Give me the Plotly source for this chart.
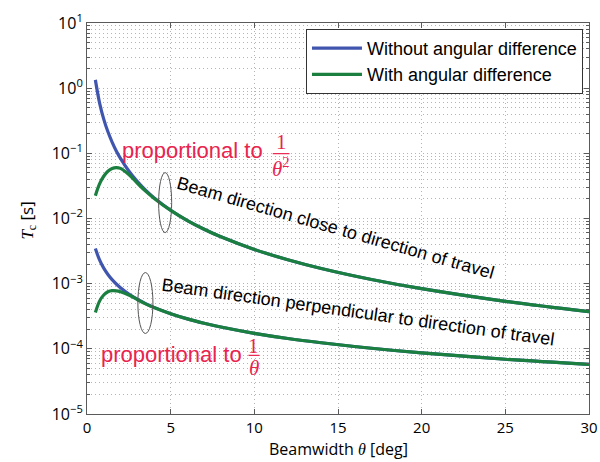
import plotly.graph_objects as go

# Beamwidth theta [deg]
theta = [0.5, 0.75, 1, 1.25, 1.5, 1.75, 2, 2.5, 3, 3.5, 4, 5, 6, 7, 8, 10, 12, 14, 17, 20, 25, 30]

# Beam direction close to direction of travel
close_without = [1.34, 0.596, 0.335, 0.214, 0.149, 0.109, 0.0838, 0.0536, 0.0372, 0.0273, 0.0209,
                 0.0134, 0.0093, 0.00684, 0.00523, 0.00335, 0.00233, 0.00171, 0.00116, 0.000838,
                 0.000536, 0.000372]
close_with = [0.0224, 0.034, 0.0445, 0.053, 0.0585, 0.0605, 0.0587, 0.0472, 0.035, 0.0263, 0.0205,
              0.0133, 0.0093, 0.00684, 0.00523, 0.00335, 0.00233, 0.00171, 0.00116, 0.000838,
              0.000536, 0.000372]

# Beam direction perpendicular to direction of travel
perp_without = [3.46e-3, 2.31e-3, 1.73e-3, 1.384e-3, 1.153e-3, 9.89e-4, 8.65e-4, 6.92e-4, 5.77e-4,
                4.94e-4, 4.33e-4, 3.46e-4, 2.88e-4, 2.47e-4, 2.16e-4, 1.73e-4, 1.44e-4, 1.24e-4,
                1.02e-4, 8.65e-5, 6.92e-5, 5.77e-5]
perp_with = [3.6e-4, 5.4e-4, 6.7e-4, 7.5e-4, 7.8e-4, 7.75e-4, 7.5e-4, 6.7e-4, 5.7e-4, 4.9e-4,
             4.32e-4, 3.46e-4, 2.88e-4, 2.47e-4, 2.16e-4, 1.73e-4, 1.44e-4, 1.24e-4, 1.02e-4,
             8.65e-5, 6.92e-5, 5.77e-5]

x_ticks = [0, 5, 10, 15, 20, 25, 30]
y_exps = [-5, -4, -3, -2, -1, 0, 1]
y_ticks = [10.0 ** e for e in y_exps]
y_ticktext = ["10<sup>%s</sup>" % (str(e).replace("-", "\u2212")) for e in y_exps]
y_minor = [m * 10.0 ** k for k in range(-5, 1) for m in range(2, 10)]

BLUE = "#4056AE"
GREEN = "#1A7F3F"
RED = "#E8244F"
GRID = "#b4b4b4"
FRAME = "#5a5a5a"

fig = go.Figure()
fig.add_trace(go.Scatter(x=theta, y=close_without, mode="lines", name="Without angular difference",
                         line=dict(color=BLUE, width=3.2, shape="spline")))
fig.add_trace(go.Scatter(x=theta, y=perp_without, mode="lines", name="Without angular difference",
                         showlegend=False, line=dict(color=BLUE, width=3.2, shape="spline")))
fig.add_trace(go.Scatter(x=theta, y=close_with, mode="lines", name="With angular difference",
                         line=dict(color=GREEN, width=3.2, shape="spline")))
fig.add_trace(go.Scatter(x=theta, y=perp_with, mode="lines", name="With angular difference",
                         showlegend=False, line=dict(color=GREEN, width=3.2, shape="spline")))

SERIF = "Liberation Serif"
SANS = "Liberation Sans"
TICKFONT = "Open Sans"

ann = []
# red labels
ann.append(dict(x=6.3, y=-0.95, text="proportional to", showarrow=False,
                font=dict(family=SANS, size=22, color=RED), xanchor="center", yanchor="middle"))
ann.append(dict(x=11.6, y=-0.83, text="1", showarrow=False,
                font=dict(family=SERIF, size=21, color=RED), xanchor="center", yanchor="middle"))
ann.append(dict(x=11.6, y=-1.21, text="<i>\u03b8</i><sup>2</sup>", showarrow=False,
                font=dict(family=SERIF, size=21, color=RED), xanchor="center", yanchor="middle"))
ann.append(dict(x=5.05, y=-4.09, text="proportional to", showarrow=False,
                font=dict(family=SANS, size=22, color=RED), xanchor="center", yanchor="middle"))
ann.append(dict(x=9.97, y=-3.95, text="1", showarrow=False,
                font=dict(family=SERIF, size=21, color=RED), xanchor="center", yanchor="middle"))
ann.append(dict(x=9.97, y=-4.29, text="<i>\u03b8</i>", showarrow=False,
                font=dict(family=SERIF, size=21, color=RED), xanchor="center", yanchor="middle"))
# black rotated labels
ann.append(dict(x=14.87, y=-2.14, text="Beam direction close to direction of travel", showarrow=False,
                textangle=16, font=dict(family=SANS, size=18, color="black"),
                xanchor="center", yanchor="middle"))
ann.append(dict(x=16.18, y=-3.43, text="Beam direction perpendicular to direction of travel",
                showarrow=False, textangle=8, font=dict(family=SANS, size=18, color="black"),
                xanchor="center", yanchor="middle"))
# axis titles
ann.append(dict(xref="paper", yref="paper", x=0.5, y=-0.089, showarrow=False,
                text="Beamwidth <span style='font-family:Liberation Serif'><i>\u03b8</i></span> [deg]",
                font=dict(family=TICKFONT, size=16, color="black"), xanchor="center", yanchor="middle"))
ann.append(dict(xref="paper", yref="paper", x=-0.118, y=0.494, showarrow=False, textangle=-90,
                text="<span style='font-family:Liberation Serif'><i>T</i><sub>c</sub></span> [s]",
                font=dict(family=TICKFONT, size=17, color="black"), xanchor="center", yanchor="middle"))

shapes = [
    # fraction bars
    dict(type="line", xref="x", yref="y", x0=11.1, x1=12.1, y0=0.0989, y1=0.0989,
         line=dict(color=RED, width=1.2)),
    dict(type="line", xref="x", yref="y", x0=9.65, x1=10.3, y0=7.94e-5, y1=7.94e-5,
         line=dict(color=RED, width=1.2)),
    # ellipses
    dict(type="circle", xref="x", yref="y", x0=4.28, x1=5.06, y0=0.00608, y1=0.0506,
         line=dict(color="#555555", width=1)),
    dict(type="circle", xref="x", yref="y", x0=3.04, x1=3.94, y0=1.72e-4, y1=1.48e-3,
         line=dict(color="#555555", width=1)),
]

fig.update_layout(
    width=600, height=462,
    margin=dict(l=87, r=11, t=23, b=48, autoexpand=False),
    paper_bgcolor="white", plot_bgcolor="white",
    annotations=ann, shapes=shapes,
    legend=dict(x=0.988, y=0.985, xanchor="right", yanchor="top",
                bgcolor="white", bordercolor="#333333", borderwidth=1,
                font=dict(family=SANS, size=18, color="black"),
                itemwidth=50, tracegroupgap=0),
    font=dict(family=TICKFONT, size=15, color="black"),
)

fig.update_xaxes(
    range=[0, 30], tickvals=x_ticks, ticks="inside", ticklen=5, tickcolor=FRAME,
    showline=True, linecolor=FRAME, linewidth=1, mirror="allticks", automargin=False,
    showgrid=True, gridcolor=GRID, gridwidth=1, griddash="1px,3px", zeroline=False,
    tickfont=dict(family=TICKFONT, size=15, color="black"),
)
fig.update_yaxes(
    type="log", range=[-5, 1], tickvals=y_ticks, ticktext=y_ticktext, automargin=False,
    ticks="inside", ticklen=5, tickcolor=FRAME,
    showline=True, linecolor=FRAME, linewidth=1, mirror="allticks",
    showgrid=True, gridcolor=GRID, gridwidth=1, griddash="1px,3px", zeroline=False,
    minor=dict(tickvals=y_minor, ticks="inside", ticklen=3, tickcolor=FRAME,
               showgrid=True, gridcolor=GRID, gridwidth=1, griddash="1px,3px"),
    tickfont=dict(family=TICKFONT, size=16, color="black"),
)

fig.write_html("out.html", config={"displayModeBar": False},
               post_script="document.body.style.margin='0px';")
